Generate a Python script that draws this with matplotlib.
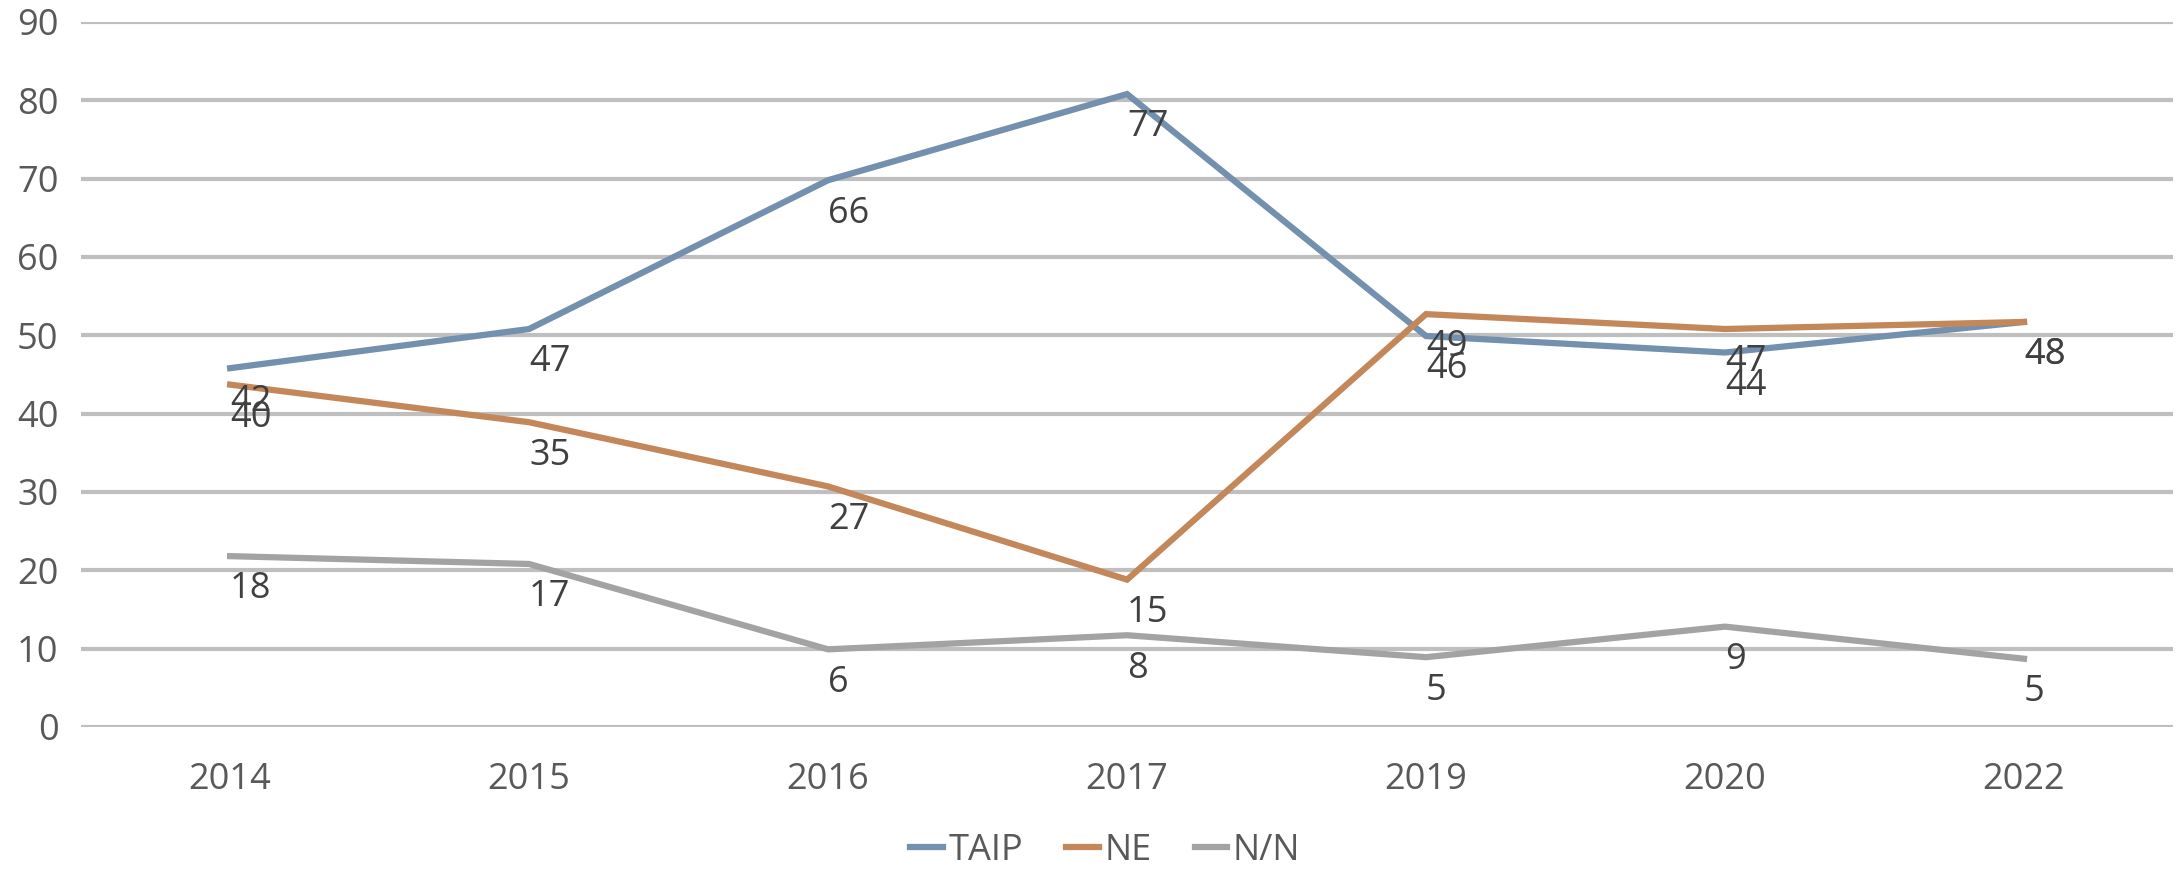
from matplotlib import pyplot
import numpy

years = ['2014', '2015', '2016', '2017', '2019', '2020', '2022']

# line positions as drawn in the chart
taip_line = [45.8, 50.8, 69.8, 80.8, 49.9, 47.8, 51.7]
ne_line = [43.7, 38.9, 30.7, 18.8, 52.7, 50.8, 51.7]
nn_line = [21.8, 20.8, 9.9, 11.7, 8.9, 12.8, 8.7]

# data labels printed on the chart
taip_labels = [42, 47, 66, 77, 46, 44, 48]
ne_labels = [40, 35, 27, 15, 49, 47, 48]
nn_labels = [18, 17, 6, 8, 5, 9, 5]

series = [
    ('TAIP', taip_line, taip_labels, '#7390AE'),
    ('NE', ne_line, ne_labels, '#C3875A'),
    ('N/N', nn_line, nn_labels, '#A3A3A3'),
]

pyplot.rcParams['font.family'] = ['Open Sans', 'DejaVu Sans']
text_color = '#595959'

fig = pyplot.figure(figsize=(21.8, 8.8), dpi=100)
ax = fig.add_axes([0.037, 0.174, 0.960, 0.801])

x = numpy.arange(len(years))
for name, values, labels, color in series:
    ax.plot(x, values, color=color, linewidth=4.5, label=name, solid_joinstyle='miter')
    for xi, yi, lab in zip(x, values, labels):
        ax.annotate('{}'.format(lab), xy=(xi, yi), xytext=(0, -24),
                    textcoords='offset points', ha='left', va='center',
                    fontsize=26, color='#404040')

ax.set_xlim(-0.5, len(years) - 0.5)
ax.set_ylim(0, 90)
ax.set_yticks(range(0, 91, 10))
ax.set_xticks(x)
ax.set_xticklabels(years)
ax.yaxis.grid(True, color='#BFBFBF', linewidth=3)
ax.set_axisbelow(True)
for spine in ax.spines.values():
    spine.set_visible(False)
ax.tick_params(axis='both', length=0, labelsize=26, labelcolor=text_color)
ax.tick_params(axis='y', pad=16)
ax.tick_params(axis='x', pad=25)

leg = fig.legend(loc='center', bbox_to_anchor=(0.507, 0.033), ncol=3, frameon=False,
                 fontsize=26, handlelength=0.9, handletextpad=0.15, columnspacing=1.2)
for t in leg.get_texts():
    t.set_color(text_color)

fig.savefig('out.png', dpi=100)
